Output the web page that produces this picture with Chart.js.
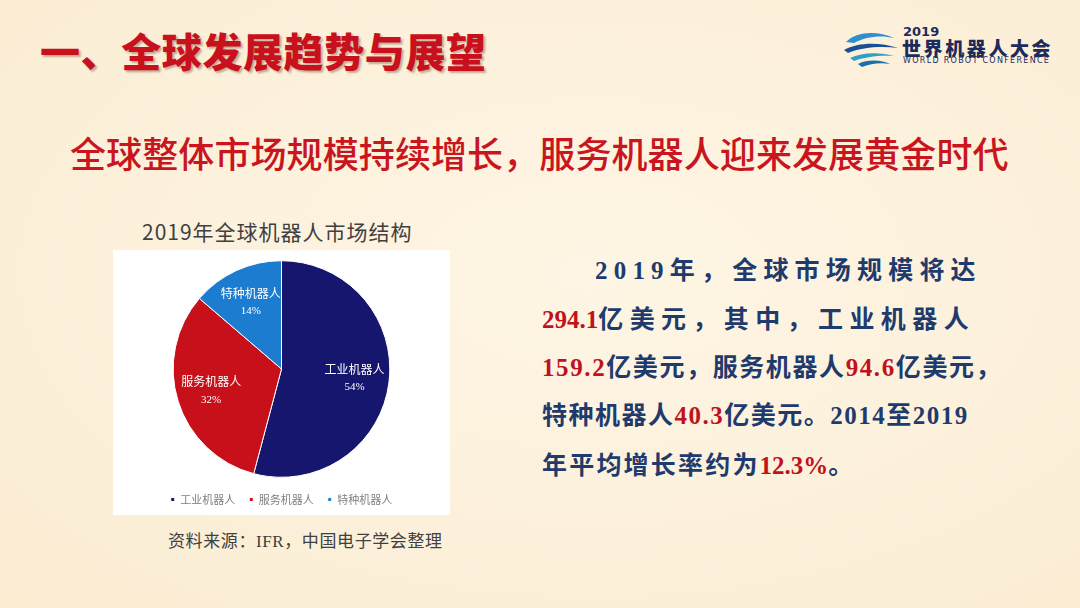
<!DOCTYPE html>
<html>
<head>
<meta charset="utf-8">
<script src="https://cdn.jsdelivr.net/npm/chart.js@4.4.1/dist/chart.umd.min.js"></script>
<style>
    html, body {
        margin: 0;
        padding: 0;
    }
    body {
        width: 1080px;
        height: 608px;
        position: relative;
        overflow: hidden;
        background: radial-gradient(ellipse at 55% 45%, #fef5e4 0%, #fcf0da 60%, #fbecd2 100%);
        font-family: "Noto Sans CJK SC", "Noto Sans", sans-serif;
    }
    .abs {
        position: absolute;
        white-space: nowrap;
    }
    #pageTitle {
        left: 40px;
        top: 24px;
        font-size: 40px;
        line-height: 52px;
        font-weight: 900;
        color: #c8111c;
        letter-spacing: 0.6px;
        text-shadow: 2px 2px 2px rgba(90, 40, 20, 0.35);
    }
    #subTitle {
        left: 70px;
        top: 128px;
        font-size: 36px;
        line-height: 48px;
        font-weight: 500;
        color: #c9161e;
        letter-spacing: 0.1px;
    }
    #chartTitle {
        left: 142px;
        top: 216px;
        font-size: 21px;
        line-height: 30px;
        color: #404040;
        letter-spacing: 1px;
    }
    #chartBox {
        left: 113px;
        top: 250px;
        width: 337px;
        height: 265px;
        background: #ffffff;
    }
    #source {
        left: 168px;
        top: 527px;
        font-size: 17px;
        line-height: 26px;
        color: #404040;
        letter-spacing: 0.6px;
    }
    #source .lat {
        font-family: "Liberation Serif", serif;
    }
    .txt {
        font-family: "Liberation Serif", "Noto Sans CJK SC", serif;
        font-size: 25px;
        line-height: 34px;
        font-weight: 700;
        color: #1f3a6c;
    }
    .txt .num {
        color: #c0121c;
    }
    .txt .tight {
        letter-spacing: 0;
    }
    #logoText1 {
        left: 903px;
        top: 26px;
        font-family: "DejaVu Sans", sans-serif;
        font-size: 13px;
        font-weight: 700;
        line-height: 12px;
        color: #1d2a5c;
    }
    #logoText2 {
        left: 902px;
        top: 39px;
        font-size: 19px;
        font-weight: 900;
        line-height: 17px;
        color: #1d2a5c;
        letter-spacing: 2.6px;
    }
    #logoText3 {
        left: 903px;
        top: 57px;
        font-family: "DejaVu Sans", sans-serif;
        font-size: 8px;
        line-height: 8px;
        color: #1d2a5c;
        letter-spacing: 1.3px;
    }
</style>
</head>
<body>

<div class="abs" id="pageTitle">一、全球发展趋势与展望</div>

<svg class="abs" style="left:842px;top:26px" width="60" height="44" viewBox="0 0 60 44">
    <path d="M4 16 C14 6, 34 4, 52 12 C40 9, 24 10, 12 17 Z" fill="#2f8fd0"/>
    <path d="M2 24 C16 16, 38 16, 56 22 C40 20, 20 21, 6 27 Z" fill="#1a4f93"/>
    <path d="M8 32 C20 26, 38 26, 52 30 C38 29, 22 31, 12 35 Z" fill="#2f9fc8"/>
    <path d="M16 38 C26 33, 40 34, 48 38 C38 36, 28 38, 20 41 Z" fill="#1a6fae"/>
</svg>
<div class="abs" id="logoText1">2019</div>
<div class="abs" id="logoText2">世界机器人大会</div>
<div class="abs" id="logoText3">WORLD ROBOT CONFERENCE</div>

<div class="abs" id="subTitle">全球整体市场规模持续增长，服务机器人迎来发展黄金时代</div>

<div class="abs" id="chartTitle">2019年全球机器人市场结构</div>
<div class="abs" id="chartBox"><canvas id="marketChart"></canvas></div>
<div class="abs" id="source">资料来源：<span class="lat">IFR</span>，中国电子学会整理</div>

<div class="abs txt" style="left:595px;top:254px;letter-spacing:6.2px">2019年，全球市场规模将达</div>
<div class="abs txt" style="left:542px;top:303px;letter-spacing:6.4px"><span class="num tight">294.1</span>亿美元，其中，工业机器人</div>
<div class="abs txt" style="left:542px;top:351px;letter-spacing:1.6px"><span class="num">159.2</span>亿美元，服务机器人<span class="num">94.6</span>亿美元，</div>
<div class="abs txt" style="left:542px;top:399px;letter-spacing:1.5px">特种机器人<span class="num">40.3</span>亿美元。2014至2019</div>
<div class="abs txt" style="left:542px;top:449px;letter-spacing:2.2px">年平均增长率约为<span class="num tight">12.3%</span>。</div>

<script>
    // Данные диаграммы (亿美元)
    const categories = ['工业机器人', '服务机器人', '特种机器人'];
    const marketValues = [159.2, 94.6, 40.3];
    const sliceColors = ['#16166f', '#c8101a', '#1c7ccf'];

    // Подписи внутри секторов: название + процент
    const sliceLabels = {
        id: 'sliceLabels',
        afterDatasetsDraw(chart) {
            const ctx = chart.ctx;
            const meta = chart.getDatasetMeta(0);
            const values = chart.data.datasets[0].data;
            const total = values.reduce((a, b) => a + b, 0);

            ctx.save();
            ctx.fillStyle = '#ffffff';
            ctx.textAlign = 'center';
            ctx.textBaseline = 'middle';
            meta.data.forEach((arc, i) => {
                const p = arc.getProps(['x', 'y', 'startAngle', 'endAngle', 'outerRadius'], true);
                const mid = (p.startAngle + p.endAngle) / 2;
                const r = p.outerRadius * 0.68;
                const cx = p.x + Math.cos(mid) * r;
                const cy = p.y + Math.sin(mid) * r;
                const pct = Math.round(values[i] / total * 100) + '%';
                ctx.font = '12px "Noto Sans CJK SC"';
                ctx.fillText(chart.data.labels[i], cx, cy - 9);
                ctx.font = '11px "Liberation Serif"';
                ctx.fillText(pct, cx, cy + 9);
            });
            ctx.restore();
        }
    };

    const ctxMarket = document.getElementById('marketChart').getContext('2d');

    new Chart(ctxMarket, {
        type: 'pie',
        data: {
            labels: categories,
            datasets: [{
                data: marketValues,
                backgroundColor: sliceColors,
                borderColor: '#ffffff',
                borderWidth: 1
            }]
        },
        options: {
            responsive: true,
            maintainAspectRatio: false,
            animation: false,
            radius: '98%',
            layout: {
                padding: {top: 8, bottom: 0}
            },
            plugins: {
                legend: {
                    position: 'bottom',
                    labels: {
                        usePointStyle: true,
                        pointStyle: 'rect',
                        boxWidth: 4,
                        boxHeight: 4,
                        padding: 14,
                        color: '#7f7f7f',
                        font: {size: 11, family: '"Noto Sans CJK SC"'}
                    }
                },
                tooltip: {enabled: false}
            }
        },
        plugins: [sliceLabels]
    });
</script>
</body>
</html>
